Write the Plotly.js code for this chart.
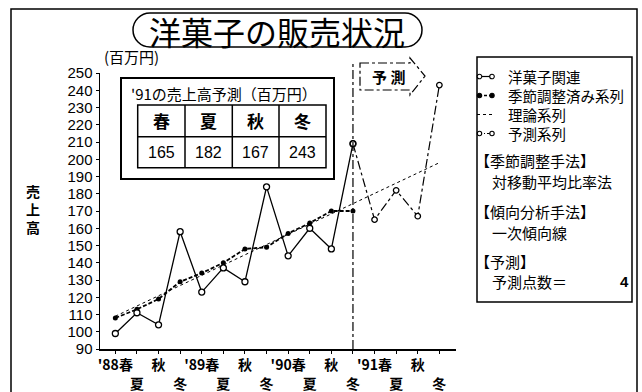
<!DOCTYPE html>
<html>
<head>
<meta charset="utf-8">
<script src="https://cdn.plot.ly/plotly-3.0.1.min.js"></script>
<style>html,body{margin:0;padding:0;background:#fff;}#chart{width:642px;height:392px;}</style>
</head>
<body>
<div id="chart"></div>
<script>
// ---- data ----
const categories = ["'88春","夏","秋","冬","'89春","夏","秋","冬","'90春","夏","秋","冬","'91春","夏","秋","冬"];
const actualSales = [99, 111, 104, 158, 123, 137, 129, 184, 144, 160, 148, 209];
const seasonallyAdjusted = [108, 113, 119, 129, 134, 140, 148, 149, 157, 163, 170, 170];
const trendEndCategories = [0, 15];
const trendEndValues = [109, 198];
const forecastSeasons = ["春", "夏", "秋", "冬"];
const forecastValues = [165, 182, 167, 243];
const seriesNames = ["洋菓子関連", "季節調整済み系列", "理論系列", "予測系列"];
const yTickValues = [90,100,110,120,130,140,150,160,170,180,190,200,210,220,230,240,250];

// ---- helpers ----
const L = 100, T = 73, W = 356, H = 276;
const px = x => (x - L) / W;
const py = y => (T + H - y) / H;
const cjk = '"Noto Sans CJK JP", "Noto Sans", sans-serif';
const num = '"Liberation Sans", Arial, sans-serif';

const idx = categories.map((c, i) => i);
const actualX = idx.slice(0, actualSales.length);
const lastActual = actualSales.length - 1;
const forecastX = [lastActual].concat(forecastValues.map((v, i) => lastActual + 1 + i));
const forecastY = [actualSales[lastActual]].concat(forecastValues);
const tickText = categories.map((c, i) => (i % 2 === 1 ? '<br>' + c : c));

const traces = [
  { x: trendEndCategories, y: trendEndValues, mode: 'lines', name: seriesNames[2],
    line: { color: 'black', width: 1, dash: 'dot' }, hoverinfo: 'skip' },
  { x: actualX, y: seasonallyAdjusted, mode: 'lines+markers', name: seriesNames[1],
    line: { color: 'black', width: 1.8, dash: '4px,2px' },
    marker: { color: 'black', size: 5 } },
  { x: actualX, y: actualSales, mode: 'lines+markers', name: seriesNames[0],
    line: { color: 'black', width: 1.3 },
    marker: { color: 'white', size: 6, line: { color: 'black', width: 1.3 } } },
  { x: forecastX, y: forecastY, mode: 'lines+markers', name: seriesNames[3],
    line: { color: 'black', width: 1.2, dash: 'dashdot' },
    marker: { color: 'white', size: 5.5, line: { color: 'black', width: 1.3 } } }
];

const shapes = [];
const ann = [];
function rect(x0, y0, x1, y1, w) {
  shapes.push({ type: 'rect', xref: 'paper', yref: 'paper', x0: px(x0), x1: px(x1), y0: py(y1), y1: py(y0),
    line: { color: 'black', width: w || 1.5 }, fillcolor: 'rgba(0,0,0,0)' });
}
function seg(x0, y0, x1, y1, w, dash) {
  shapes.push({ type: 'line', xref: 'paper', yref: 'paper', x0: px(x0), x1: px(x1), y0: py(y0), y1: py(y1),
    line: { color: 'black', width: w || 1.2, dash: dash || 'solid' } });
}
function dot(cx, cy, r, filled) {
  shapes.push({ type: 'circle', xref: 'paper', yref: 'paper', x0: px(cx - r), x1: px(cx + r), y0: py(cy + r), y1: py(cy - r),
    line: { color: 'black', width: 1.1 }, fillcolor: filled ? 'black' : 'white' });
}
function text(t, x, y, size, opts) {
  opts = opts || {};
  ann.push({ text: t, xref: 'paper', yref: 'paper', x: px(x), y: py(y), showarrow: false,
    xanchor: opts.anchor || 'left', yanchor: 'middle', borderpad: 0,
    font: { family: opts.family || cjk, size: size, color: 'black', weight: opts.weight || 'normal' } });
}
function P(x, y) { return px(x).toFixed(5) + ',' + py(y).toFixed(5); }

// outer frame
rect(11, 9, 637, 420, 1.5);

// title stadium
(function () {
  const x0 = 133, x1 = 422, y0 = 13, y1 = 47, r = 17, k = 0.5523 * r;
  const cy = (y0 + y1) / 2;
  const d = 'M' + P(x0 + r, y0) + ' L' + P(x1 - r, y0) +
    ' C' + P(x1 - r + k, y0) + ' ' + P(x1, cy - k) + ' ' + P(x1, cy) +
    ' C' + P(x1, cy + k) + ' ' + P(x1 - r + k, y1) + ' ' + P(x1 - r, y1) +
    ' L' + P(x0 + r, y1) +
    ' C' + P(x0 + r - k, y1) + ' ' + P(x0, cy + k) + ' ' + P(x0, cy) +
    ' C' + P(x0, cy - k) + ' ' + P(x0 + r - k, y0) + ' ' + P(x0 + r, y0) + ' Z';
  shapes.push({ type: 'path', xref: 'paper', yref: 'paper', path: d, line: { color: 'black', width: 1.5 } });
})();
text('洋菓子の販売状況', 277, 31, 32, { anchor: 'center' });

// unit and axis title
text('(百万円)', 131, 57, 15, { anchor: 'center' });
text('売<br>上<br>高', 33, 209, 14, { anchor: 'center', weight: 'bold' });

// forecast boundary
shapes.push({ type: 'line', xref: 'x', yref: 'paper', x0: lastActual, x1: lastActual, y0: 0, y1: py(64),
  line: { color: 'black', width: 1.2, dash: 'dashdot' } });

// forecast arrow box
shapes.push({ type: 'path', xref: 'paper', yref: 'paper',
  path: 'M' + P(360, 63) + ' L' + P(410, 63) + ' L' + P(410, 58) + ' L' + P(425, 76) + ' L' + P(410, 95) +
        ' L' + P(410, 90) + ' L' + P(360, 90) + ' Z',
  line: { color: 'black', width: 1.2, dash: 'dashdot' } });
text('予 測', 388, 76, 15, { anchor: 'center', weight: 'bold' });

// inset table
rect(121, 78, 334, 179, 2);
text("'91の売上高予測（百万円）", 130, 93, 15);
const colEdges = [137.7, 185, 232.3, 279, 326];
const rowEdges = [105, 136.7, 167.7];
rect(colEdges[0], rowEdges[0], colEdges[4], rowEdges[2], 1.5);
for (let i = 1; i < 4; i++) seg(colEdges[i], rowEdges[0], colEdges[i], rowEdges[2], 1.5);
seg(colEdges[0], rowEdges[1], colEdges[4], rowEdges[1], 1.5);
forecastSeasons.forEach((s, i) => {
  const cx = (colEdges[i] + colEdges[i + 1]) / 2;
  text(s, cx, (rowEdges[0] + rowEdges[1]) / 2, 17, { anchor: 'center', weight: 'bold' });
  text(String(forecastValues[i]), cx, (rowEdges[1] + rowEdges[2]) / 2, 16, { anchor: 'center', family: num });
});

// legend box
rect(477, 57, 632, 302, 1.5);
const legY = [76.5, 95.5, 114.5, 133.5];
// 1: actual
seg(479, legY[0], 492, legY[0], 1.2); dot(479.5, legY[0], 2.3, false); dot(492, legY[0], 2.3, false);
// 2: adjusted
seg(479, legY[1], 492, legY[1], 1.4, '3px,2px'); dot(479.5, legY[1], 2.2, true); dot(492, legY[1], 2.2, true);
// 3: theoretical
seg(477, legY[2], 494, legY[2], 1, 'dot');
// 4: forecast
seg(479, legY[3], 492, legY[3], 1.1, '3px,2px,1px,2px'); dot(479.5, legY[3], 2.2, false); dot(492, legY[3], 2.2, false);
seriesNames.forEach((n, i) => text(n, 507, legY[i], 14.5));
text('【季節調整手法】', 474, 160, 15);
text('対移動平均比率法', 491, 181.5, 15);
text('【傾向分析手法】', 474, 211.5, 15);
text('一次傾向線', 491, 232, 15);
text('【予測】', 474, 261, 15);
text('予測点数＝', 491, 281, 15);
text(String(forecastValues.length), 630, 281, 15, { anchor: 'right', family: num, weight: 'bold' });

const layout = {
  width: 642, height: 392,
  margin: { l: L, r: 642 - L - W, t: T, b: 392 - T - H, pad: 0 },
  paper_bgcolor: 'white', plot_bgcolor: 'white',
  showlegend: false,
  xaxis: {
    range: [-0.71, 15.77], tickmode: 'array', tickvals: idx, ticktext: tickText,
    showline: true, linecolor: 'black', linewidth: 1.5, ticks: 'outside', ticklen: 3, tickcolor: 'black',
    showgrid: false, zeroline: false, tickangle: 0,
    tickfont: { family: cjk, size: 14, color: 'black', weight: 'bold' }
  },
  yaxis: {
    range: [90, 250], tickmode: 'array', tickvals: yTickValues,
    showline: true, linecolor: 'black', linewidth: 1.5, ticks: 'outside', ticklen: 3, tickcolor: 'black',
    showgrid: false, zeroline: false,
    tickfont: { family: num, size: 15, color: 'black' }
  },
  shapes: shapes,
  annotations: ann
};

Plotly.newPlot('chart', traces, layout, { staticPlot: true, displayModeBar: false });
</script>
</body>
</html>
